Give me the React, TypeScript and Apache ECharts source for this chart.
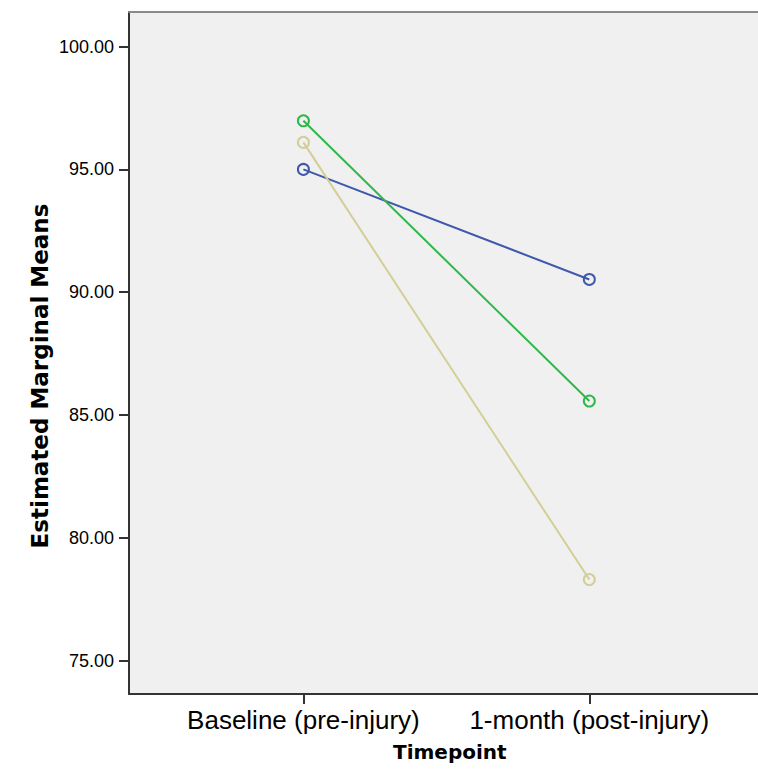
import React, { useEffect, useRef } from "react";
import * as echarts from "echarts";

const categories = ["Baseline (pre-injury)", "1-month (post-injury)"];
const groupNames = ["Group 1", "Group 2", "Group 3"];
const blueValues = [95.0, 90.52];
const greenValues = [96.98, 85.57];
const beigeValues = [96.1, 78.3];
const yTicks = [75, 80, 85, 90, 95, 100];
const colors = ["#3e58ac", "#2eb848", "#d3ce97"];

export default function App() {
  const ref = useRef<HTMLDivElement>(null);
  useEffect(() => {
    if (!ref.current) return;
    const chart = echarts.init(ref.current, null, { renderer: "svg" });
    const seriesValues = [blueValues, greenValues, beigeValues];
    const series = seriesValues.map((vals, si) => ({
      name: groupNames[si],
      type: "line",
      data: vals.map((v, i) => [i, v]),
      symbol: "circle",
      symbolSize: 11,
      z: 3 + si,
      lineStyle: { color: colors[si], width: 2 },
      itemStyle: { color: "rgba(0,0,0,0)", borderColor: colors[si], borderWidth: 2 },
    }));
    chart.setOption({
      animation: false,
      backgroundColor: "#ffffff",
      grid: {
        left: 129,
        top: 12,
        right: 0,
        bottom: 80,
        show: true,
        backgroundColor: "#f0f0f0",
        borderWidth: 0,
      },
      xAxis: [
        {
          type: "value",
          min: -0.61,
          max: 1.59,
          position: "bottom",
          axisLine: { show: true, onZero: false, lineStyle: { color: "#333333", width: 2 } },
          axisTick: {
            show: true,
            customValues: [0, 1],
            length: 10,
            lineStyle: { color: "#333333", width: 2 },
          },
          axisLabel: {
            customValues: [0, 1],
            formatter: (v: number) => categories[Math.round(v)] ?? "",
            fontFamily: "Liberation Sans, Arial, sans-serif",
            fontSize: 26,
            color: "#000000",
            margin: 13,
          },
          splitLine: { show: false },
        },
        {
          type: "value",
          min: -0.61,
          max: 1.59,
          position: "top",
          axisLine: { show: true, onZero: false, lineStyle: { color: "#8a8a8a", width: 2 } },
          axisTick: { show: false },
          axisLabel: { show: false },
          splitLine: { show: false },
        },
      ],
      yAxis: {
        type: "value",
        min: 73.64,
        max: 101.41,
        axisLine: { show: true, onZero: false, lineStyle: { color: "#333333", width: 2 } },
        axisTick: {
          show: true,
          customValues: yTicks,
          length: 10,
          lineStyle: { color: "#333333", width: 2 },
        },
        axisLabel: {
          customValues: yTicks,
          formatter: (v: number) => v.toFixed(2),
          fontFamily: "Liberation Sans, Arial, sans-serif",
          fontSize: 18,
          color: "#000000",
          margin: 15,
        },
        splitLine: { show: false },
      },
      graphic: [
        {
          type: "text",
          left: 393,
          top: 742,
          style: {
            text: "Timepoint",
            font: "bold 20px 'DejaVu Sans', Verdana, sans-serif",
            fill: "#000000",
          },
        },
        {
          type: "text",
          x: 40,
          y: 376,
          rotation: Math.PI / 2,
          style: {
            text: "Estimated Marginal Means",
            font: "bold 23px 'DejaVu Sans', Verdana, sans-serif",
            fill: "#000000",
            align: "center",
            verticalAlign: "middle",
          },
        },
      ],
      series,
    });
    return () => chart.dispose();
  }, []);
  return (
    <div
      ref={ref}
      style={{ position: "absolute", left: 0, top: 0, width: 758, height: 774 }}
    />
  );
}
